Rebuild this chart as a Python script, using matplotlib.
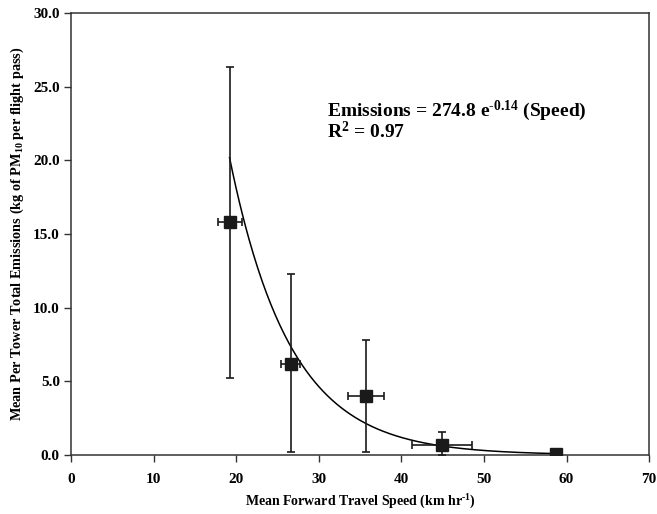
import matplotlib
matplotlib.use("Agg")
import matplotlib.pyplot as plt
import numpy as np
from matplotlib.ticker import FormatStrFormatter

plt.rcParams['font.family'] = ['Liberation Serif', 'DejaVu Serif']
plt.rcParams['font.weight'] = 'bold'
plt.rcParams['mathtext.fontset'] = 'custom'
plt.rcParams['mathtext.rm'] = 'Liberation Serif:bold'
plt.rcParams['mathtext.bf'] = 'Liberation Serif:bold'
plt.rcParams['mathtext.it'] = 'Liberation Serif:bold'
plt.rcParams['mathtext.default'] = 'bf'

# Data
speed = [19.2, 26.6, 35.7, 44.9, 58.7]
emissions = [15.8, 6.2, 4.0, 0.66, 0.05]
speed_err = [1.45, 1.15, 2.2, 3.6, 0.5]
emis_err_low = [10.6, 6.0, 3.8, 0.66, 0.05]
emis_err_high = [10.5, 6.1, 3.8, 0.88, 0.05]

# Exponential trendline (Emissions = a * exp(-k * Speed))
trend_a = 274.8
trend_k = 0.136

x_ticks = [0, 10, 20, 30, 40, 50, 60, 70]
y_ticks = [0.0, 5.0, 10.0, 15.0, 20.0, 25.0, 30.0]

fig = plt.figure(figsize=(6.57, 5.14), dpi=100)
ax = fig.add_axes([0.108, 0.1148, 0.880, 0.860])

xs = np.linspace(speed[0], speed[-1], 300)
ax.plot(xs, trend_a * np.exp(-trend_k * xs), color='black', lw=1.1, zorder=2)

ax.errorbar(speed, emissions, xerr=speed_err,
            yerr=[emis_err_low, emis_err_high],
            fmt='s', color='#1a1a1a', ms=8.5, ecolor='#1a1a1a',
            elinewidth=1.2, capsize=3, capthick=1.2, zorder=3)

ax.set_xlim(0, 70)
ax.set_ylim(0, 30)
ax.set_xticks(x_ticks)
ax.set_yticks(y_ticks)
ax.yaxis.set_major_formatter(FormatStrFormatter('%.1f'))
ax.tick_params(direction='out', length=5, width=1, labelsize=11, color='#333333')
ax.tick_params(axis='x', pad=8)
ax.tick_params(axis='y', pad=3)
for lbl in ax.get_xticklabels() + ax.get_yticklabels():
    lbl.set_fontweight('bold')
for sp in ax.spines.values():
    sp.set_linewidth(1.1)
    sp.set_color('#333333')

ax.set_xlabel('Mean Forward Travel Speed (km hr$^{\u2010 1}$)', fontsize=10,
              fontweight='bold')
ax.xaxis.set_label_coords(0.5, -0.085)
ax.set_ylabel('Mean Per Tower Total Emissions (kg of PM$_{10}$ per flight pass)',
              fontsize=10.3, fontweight='bold')
ax.yaxis.set_label_coords(-0.077, 0.5)

ax.text(31.0, 23.35, 'Emissions = 274.8 e$^{\u20100.14}$ (Speed)', fontsize=14,
        fontweight='bold', va='center', ha='left')
ax.text(31.0, 21.95, 'R$^{2}$ = 0.97', fontsize=14, fontweight='bold',
        va='center', ha='left')

fig.savefig('out.png', dpi=100)
